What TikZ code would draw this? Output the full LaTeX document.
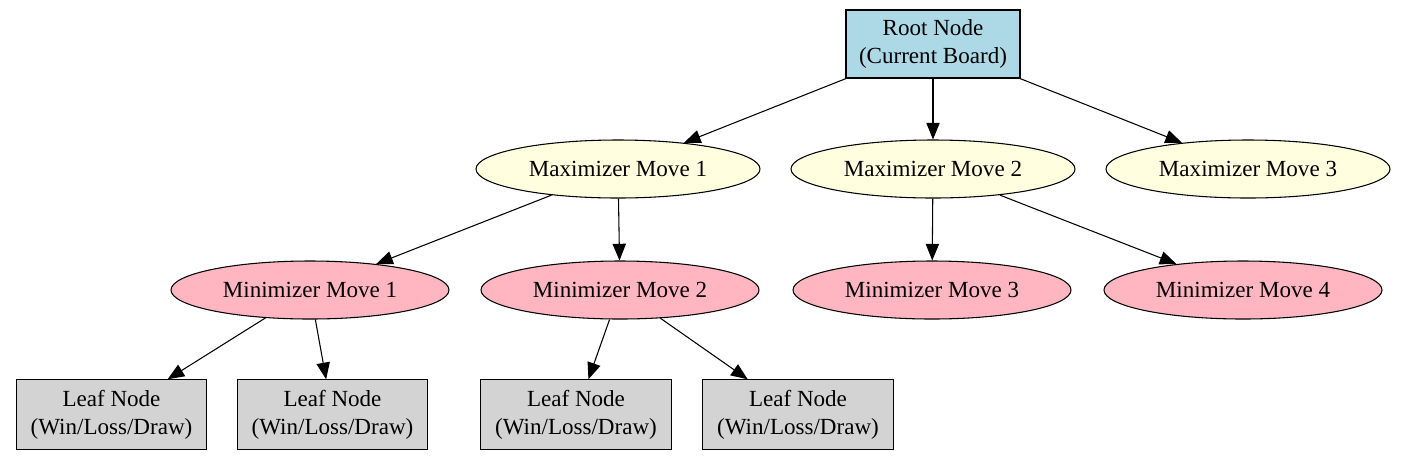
\documentclass[tikz,border=0pt]{standalone}
\usepackage{fontspec}
\setmainfont{Liberation Serif}
\usepackage{tikz}
\usetikzlibrary{shapes}
\usetikzlibrary{arrows.meta}
\definecolor{rootblue}{RGB}{173,216,230}
\definecolor{maxyellow}{RGB}{255,255,224}
\definecolor{minpink}{RGB}{255,182,193}
\definecolor{leafgray}{RGB}{211,211,211}

\begin{document}
\begin{tikzpicture}[x=0.75pt,y=0.75pt,yscale=-1,xscale=1,
  font=\fontsize{17.3}{21}\selectfont,
  rootbox/.style={draw,fill=rootblue,line width=0.8pt,minimum width=130.5pt,minimum height=51pt,align=center,inner sep=0.75pt},
  maxnode/.style={ellipse,draw,fill=maxyellow,line width=0.8pt,minimum width=213pt,minimum height=43.5pt,inner sep=0.75pt},
  minnode/.style={ellipse,draw,fill=minpink,line width=0.8pt,minimum width=208.5pt,minimum height=43.5pt,inner sep=0.75pt},
  leafbox/.style={draw,fill=leafgray,line width=0.8pt,minimum width=143pt,minimum height=52pt,align=center,inner sep=0.75pt},
  edge/.style={line width=0.8pt,-{Triangle[length=12.5pt,width=10pt]}}]
\useasboundingbox (0,0) rectangle (1422,462);

%Root
\node [rootbox] (root) at (933,44) {Root Node\\(Current Board)};
%Maximizer moves
\node [maxnode] (max1) at (618,169) {Maximizer Move 1};
\node [maxnode] (max2) at (933,169) {Maximizer Move 2};
\node [maxnode] (max3) at (1248,169) {Maximizer Move 3};
%Minimizer moves
\node [minnode] (min1) at (310,290) {Minimizer Move 1};
\node [minnode] (min2) at (620,290) {Minimizer Move 2};
\node [minnode] (min3) at (932,290) {Minimizer Move 3};
\node [minnode] (min4) at (1243,290) {Minimizer Move 4};
%Leaves
\node [leafbox] (leaf1) at (111.5,414.5) {Leaf Node\\(Win/Loss/Draw)};
\node [leafbox] (leaf2) at (332.5,414.5) {Leaf Node\\(Win/Loss/Draw)};
\node [leafbox] (leaf3) at (576,414.5) {Leaf Node\\(Win/Loss/Draw)};
\node [leafbox] (leaf4) at (798,414.5) {Leaf Node\\(Win/Loss/Draw)};

%Edges
\draw [edge] (root) -- (max1);
\draw [edge] (root) -- (max2);
\draw [edge] (root) -- (max3);
\draw [edge] (max1) -- (min1);
\draw [edge] (max1) -- (min2);
\draw [edge] (max2) -- (min3);
\draw [edge] (max2) -- (min4);
\draw [edge] (min1) -- (leaf1);
\draw [edge] (min1) -- (leaf2);
\draw [edge] (min2) -- (leaf3);
\draw [edge] (min2) -- (leaf4);

\end{tikzpicture}
\end{document}
